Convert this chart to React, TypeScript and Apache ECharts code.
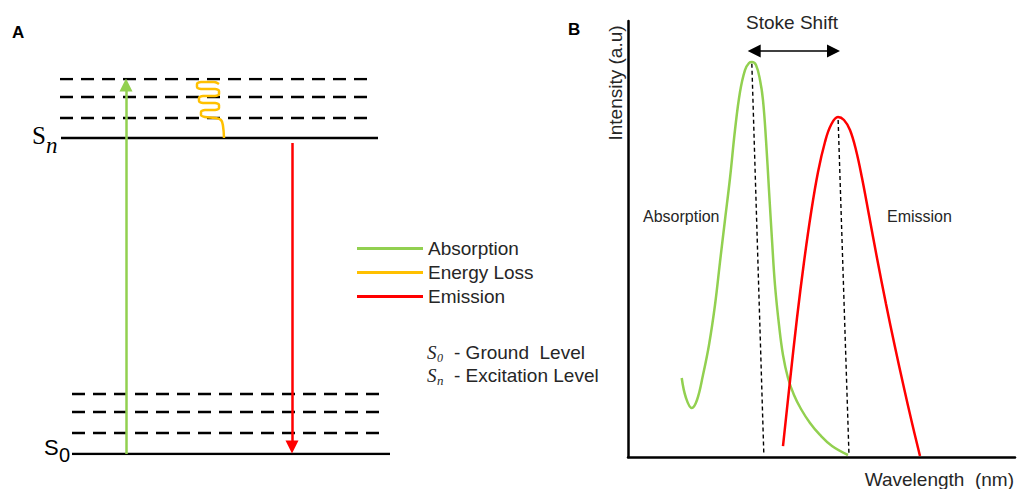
import React, { useEffect, useRef } from "react";
import * as echarts from "echarts";

const GREEN = "#92D050";
const ORANGE = "#FFC000";
const RED = "#FF0000";
const INK = "#000000";
const TEXT = "#262626";

// ---------- Panel A : energy-level diagram (schematic energy units) ----------
const groundLevel = 0;
const excitedLevel = 316;
const groundVibLevels = [21, 42, 60];
const excitedVibLevels = [336, 357, 375];
const groundSpan = [72, 390];
const groundVibSpan = [72, 381];
const excitedSpan = [61, 378];
const excitedVibSpan = [60, 369];
const absorptionArrow = [
  [126, 0],
  [126, 369],
];
const emissionArrow = [
  [292, 311],
  [292, 7],
];
const energyLossPath = [
  [224, 316], [223, 328], [221, 334], [215, 336], [205, 337], [201, 339],
  [201, 342], [205, 344], [215, 344], [219, 346], [219, 349], [215, 351],
  [203, 351], [199, 353], [199, 356], [203, 358], [215, 358], [219, 360],
  [219, 363], [215, 365], [201, 365], [197, 367], [197, 370], [201, 372],
  [214, 372], [219, 370],
];
const legendNames = ["Absorption", "Energy Loss", "Emission"];

// ---------- Panel B : spectra (arbitrary wavelength / intensity units) ----------
const absorptionSpectrum = [
  [13.88, 18.12], [14.99, 13.53], [16.46, 11.24], [17.83, 13.07],
  [19.38, 18.81], [20.93, 25.69], [22.48, 34.86], [23.77, 44.72],
  [25.06, 54.36], [26.36, 63.99], [27.65, 75.0], [28.94, 83.72],
  [30.23, 88.76], [31.27, 90.37], [32.04, 90.6], [33.07, 89.91],
  [34.11, 86.47], [34.88, 81.88], [35.66, 72.71], [36.43, 61.24],
  [37.21, 49.77], [37.98, 39.45], [39.02, 30.28], [40.05, 23.39],
  [41.34, 18.12], [42.89, 14.22], [44.7, 11.01], [47.03, 7.8],
  [49.61, 5.05], [52.71, 2.52], [56.85, 0.46],
];
const emissionSpectrum = [
  [40.05, 2.52], [41.86, 17.43], [43.67, 31.88], [45.48, 44.72],
  [47.29, 55.96], [49.1, 65.37], [50.9, 72.25], [52.45, 76.15],
  [54.26, 77.98], [55.81, 77.29], [57.36, 75.0], [58.91, 70.41],
  [60.47, 63.99], [62.27, 55.5], [64.34, 45.64], [66.67, 35.09],
  [68.99, 25.23], [71.32, 15.83], [73.39, 7.8], [75.45, 0.23],
];
const absorptionPeakGuide = [
  [32.0, 90.2],
  [35.1, 0.5],
];
const emissionPeakGuide = [
  [54.3, 77.3],
  [57.1, 0.5],
];
const stokesShift = [
  [32.6, 93.1],
  [53.1, 93.1],
];

const levelSeries = (
  name: string,
  y: number,
  span: number[],
  dashed: boolean
) => ({
  type: "line",
  name,
  xAxisIndex: 0,
  yAxisIndex: 0,
  data: [
    [span[0], y],
    [span[1], y],
  ],
  showSymbol: false,
  silent: true,
  lineStyle: { color: INK, width: 2.5, type: dashed ? [13, 8] : "solid" },
  z: 1,
});

const arrowSeries = (name: string, pts: number[][], color: string) => ({
  type: "line",
  name,
  xAxisIndex: 0,
  yAxisIndex: 0,
  data: [],
  showSymbol: false,
  color,
  itemStyle: { color },
  lineStyle: { color, width: 2.5 },
  markLine: {
    silent: true,
    symbol: ["none", "triangle"],
    symbolSize: [13, 13],
    label: { show: false },
    lineStyle: { color, width: 2.5, type: "solid" },
    data: [[{ coord: pts[0] }, { coord: pts[1] }]],
  },
  z: 3,
});

const txt = (
  text: string,
  x: number,
  y: number,
  font: string,
  size: number,
  extra: any = {}
) => ({
  type: "text",
  x,
  y,
  silent: true,
  style: {
    text,
    fontFamily: font,
    fontSize: size,
    fill: TEXT,
    align: "left",
    verticalAlign: "middle",
    ...extra,
  },
});

export default function App() {
  const ref = useRef<HTMLDivElement>(null);

  useEffect(() => {
    document.body.style.margin = "0";
    const chart = echarts.init(ref.current!, undefined, { renderer: "svg" });

    const series: any[] = [];
    series.push(levelSeries("S0", groundLevel, groundSpan, false));
    groundVibLevels.forEach((v, i) =>
      series.push(levelSeries("S0 vib " + i, v, groundVibSpan, true))
    );
    series.push(levelSeries("Sn", excitedLevel, excitedSpan, false));
    excitedVibLevels.forEach((v, i) =>
      series.push(levelSeries("Sn vib " + i, v, excitedVibSpan, true))
    );
    series.push(arrowSeries(legendNames[0], absorptionArrow, GREEN));
    series.push({
      type: "line",
      name: legendNames[1],
      xAxisIndex: 0,
      yAxisIndex: 0,
      data: energyLossPath,
      smooth: 0.4,
      showSymbol: false,
      color: ORANGE,
      itemStyle: { color: ORANGE },
      lineStyle: { color: ORANGE, width: 2.5 },
      z: 3,
    });
    series.push(arrowSeries(legendNames[2], emissionArrow, RED));

    // Panel B
    series.push({
      type: "line",
      name: "Absorption spectrum",
      xAxisIndex: 1,
      yAxisIndex: 1,
      data: absorptionSpectrum,
      smooth: 0.4,
      showSymbol: false,
      lineStyle: { color: GREEN, width: 2.5 },
      itemStyle: { color: GREEN },
      z: 3,
    });
    series.push({
      type: "line",
      name: "Emission spectrum",
      xAxisIndex: 1,
      yAxisIndex: 1,
      data: emissionSpectrum,
      smooth: 0.4,
      showSymbol: false,
      lineStyle: { color: RED, width: 2.5 },
      itemStyle: { color: RED },
      z: 3,
    });
    [absorptionPeakGuide, emissionPeakGuide].forEach((g, i) =>
      series.push({
        type: "line",
        name: "peak guide " + i,
        xAxisIndex: 1,
        yAxisIndex: 1,
        data: g,
        showSymbol: false,
        silent: true,
        lineStyle: { color: INK, width: 1.4, type: [4, 3] },
        z: 2,
      })
    );
    series.push({
      type: "line",
      name: "Stoke Shift",
      xAxisIndex: 1,
      yAxisIndex: 1,
      data: [],
      showSymbol: false,
      markLine: {
        silent: true,
        symbol: ["triangle", "triangle"],
        symbolSize: [13, 13],
        label: { show: false },
        lineStyle: { color: INK, width: 1.5, type: "solid" },
        data: [[{ coord: stokesShift[0] }, { coord: stokesShift[1] }]],
      },
    });

    const hidden = { show: false };
    chart.setOption({
      animation: false,
      backgroundColor: "#ffffff",
      grid: [
        { left: 0, top: 79, width: 400, height: 375 },
        { left: 628, top: 21, width: 387, height: 436 },
      ],
      xAxis: [
        { type: "value", gridIndex: 0, min: 0, max: 400, ...hidden },
        {
          type: "value",
          gridIndex: 1,
          min: 0,
          max: 100,
          axisLine: { show: true, lineStyle: { color: INK, width: 2.5 } },
          axisTick: hidden,
          axisLabel: hidden,
          splitLine: hidden,
        },
      ],
      yAxis: [
        { type: "value", gridIndex: 0, min: 0, max: 375, ...hidden },
        {
          type: "value",
          gridIndex: 1,
          min: 0,
          max: 100,
          axisLine: { show: true, lineStyle: { color: INK, width: 2.5 } },
          axisTick: hidden,
          axisLabel: hidden,
          splitLine: hidden,
        },
      ],
      legend: {
        data: legendNames,
        orient: "vertical",
        left: 357,
        top: 239,
        padding: 0,
        itemGap: 5,
        itemWidth: 66,
        itemHeight: 3,
        icon: "rect",
        selectedMode: false,
        textStyle: {
          fontFamily: "Liberation Sans",
          fontSize: 19,
          color: TEXT,
          padding: [0, 0, 0, 0],
        },
      },
      graphic: [
        txt("A", 12, 32, "Liberation Sans", 17, { fontWeight: "bold", fill: "#000" }),
        txt("S", 32, 135, "Liberation Serif", 25, { fill: "#000" }),
        txt("n", 46, 145, "Liberation Serif", 23, { fontStyle: "italic", fill: "#000" }),
        txt("S", 44, 447, "Liberation Sans", 22, { fill: "#000" }),
        txt("0", 59, 455, "Liberation Sans", 20, { fill: "#000" }),
        txt("S", 427, 352, "Liberation Serif", 19, { fontStyle: "italic" }),
        txt("0", 437, 358, "Liberation Serif", 12, { fontStyle: "italic" }),
        txt("- Ground  Level", 454, 352, "Liberation Sans", 19),
        txt("S", 427, 375, "Liberation Serif", 19, { fontStyle: "italic" }),
        txt("n", 437, 380, "Liberation Serif", 13, { fontStyle: "italic" }),
        txt("- Excitation Level", 454, 375, "Liberation Sans", 19),
        txt("B", 568, 29, "Liberation Sans", 17, { fontWeight: "bold", fill: "#000" }),
        txt("Stoke Shift", 792, 22, "Liberation Sans", 19, { align: "center" }),
        {
          type: "text",
          x: 615,
          y: 83,
          rotation: Math.PI / 2,
          silent: true,
          style: {
            text: "Intensity (a.u)",
            fontFamily: "Liberation Sans",
            fontSize: 19,
            fill: TEXT,
            align: "center",
            verticalAlign: "middle",
          },
        },
        txt("Wavelength  (nm)", 1014, 479, "Liberation Sans", 19, { align: "right" }),
        txt("Absorption", 643, 216, "Liberation Sans", 16),
        txt("Emission", 887, 216, "Liberation Sans", 16),
      ],
      series,
    });

    return () => chart.dispose();
  }, []);

  return (
    <div
      ref={ref}
      style={{ width: 1017, height: 489, background: "#ffffff" }}
    />
  );
}
